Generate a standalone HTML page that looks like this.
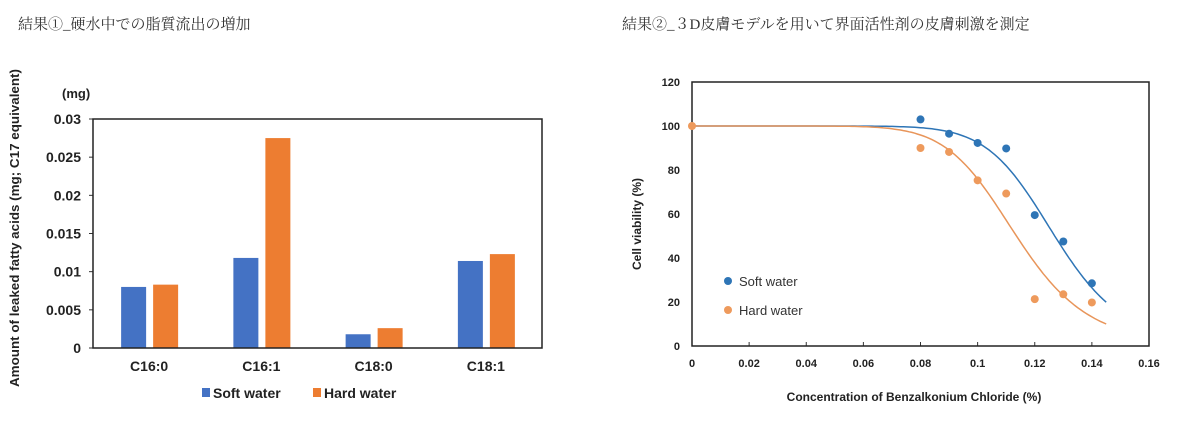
<!DOCTYPE html>
<html><head><meta charset="utf-8"><style>
body{margin:0;background:#fff;width:1200px;height:416px;overflow:hidden}
svg text{font-family:"Liberation Sans",Arial,sans-serif}
.t{font-family:"Liberation Serif","Noto Serif CJK SC",serif;font-size:15px;fill:#333}
</style></head><body>
<svg id="s" width="1200" height="416" xmlns="http://www.w3.org/2000/svg">
<text class="t" x="18" y="29">結果①_硬水中での脂質流出の増加</text>
<text class="t" x="622" y="29">結果②_３D皮膚モデルを用いて界面活性剤の皮膚刺激を測定</text>
<g id="L"></g>
<g id="R"></g>
</svg>
<script>
const NS="http://www.w3.org/2000/svg";
function mk(p,tag,a,txt){const e=document.createElementNS(NS,tag);for(const k in a)e.setAttribute(k,a[k]);if(txt!==undefined)e.textContent=txt;p.appendChild(e);return e;}
// ---- Bar chart data
const categories=["C16:0","C16:1","C18:0","C18:1"];
const softValues=[0.008,0.0118,0.0018,0.0114];
const hardValues=[0.0083,0.0275,0.0026,0.0123];
const barTicks=["0","0.005","0.01","0.015","0.02","0.025","0.03"];
// ---- Scatter data
const xsConc=[0.08,0.09,0.10,0.11,0.12,0.13,0.14];
const softViab=[103,96.5,92.3,89.8,59.5,47.5,28.5];
const hardConc=[0,0.08,0.09,0.10,0.11,0.12,0.13,0.14];
const hardViab=[100,90,88.2,75.3,69.3,21.3,23.5,19.8];
const softFit=[0.127,10.5];
const hardFit=[0.1136,9.0];
const xTickLabels=["0","0.02","0.04","0.06","0.08","0.1","0.12","0.14","0.16"];
const yTickLabels=["0","20","40","60","80","100","120"];

// Left
const L=document.getElementById('L');
const lx0=93,lx1=542,ly0=348,ly1=119;
const ly=v=>ly0-(v/0.03)*(ly0-ly1);
const cw=(lx1-lx0)/categories.length;
barTicks.forEach(t=>{const v=parseFloat(t);
 let e=mk(L,'text',{x:81,y:ly(v)+5,'text-anchor':'end','font-size':14,'font-weight':'bold',fill:'#222'},t);
 
 mk(L,'line',{x1:lx0-4,x2:lx0,y1:ly(v),y2:ly(v),stroke:'#333'});});
categories.forEach((c,i)=>{const cx=lx0+cw*(i+0.5);
 let b=mk(L,'rect',{x:cx-28,y:ly(softValues[i]),width:25,height:ly0-ly(softValues[i]),fill:'#4472C4'});
 
 b=mk(L,'rect',{x:cx+4,y:ly(hardValues[i]),width:25,height:ly0-ly(hardValues[i]),fill:'#ED7D31'});
 
 let t=mk(L,'text',{x:cx,y:371,'text-anchor':'middle','font-size':14,'font-weight':'bold',fill:'#222'},c);
 });
mk(L,'rect',{x:lx0,y:ly1,width:lx1-lx0,height:ly0-ly1,fill:'none',stroke:'#222','stroke-width':1.5});
mk(L,'text',{x:62,y:98,'font-size':13,'font-weight':'bold',fill:'#222'},'(mg)');
let yt=mk(L,'text',{transform:'translate(19,228) rotate(-90)','text-anchor':'middle','font-size':12.5,'font-weight':'bold',fill:'#222',textLength:318,lengthAdjust:'spacingAndGlyphs'},'Amount of leaked fatty acids (mg; C17 equivalent)');

mk(L,'rect',{x:202,y:388,width:8,height:9,fill:'#4472C4'});
let lg=mk(L,'text',{x:213,y:398,'font-size':14,'font-weight':'bold',fill:'#222'},'Soft water');

mk(L,'rect',{x:313,y:388,width:8,height:9,fill:'#ED7D31'});
lg=mk(L,'text',{x:324,y:398,'font-size':14,'font-weight':'bold',fill:'#222'},'Hard water');


// Right
const R=document.getElementById('R');
const rx0=692,rx1=1149,ry0=346,ry1=82;
const sx=v=>rx0+v/0.16*(rx1-rx0), sy=v=>ry0-v/120*(ry0-ry1);
yTickLabels.forEach(t=>{const v=+t;
 let e=mk(R,'text',{x:680,y:sy(v)+4,'text-anchor':'end','font-size':11,'font-weight':'bold',fill:'#222'},t);
 });
xTickLabels.forEach(t=>{const v=+t;
 mk(R,'line',{x1:sx(v),x2:sx(v),y1:ry0,y2:ry0-4,stroke:'#333'});
 let e=mk(R,'text',{x:sx(v),y:367,'text-anchor':'middle','font-size':11,'font-weight':'bold',fill:'#222'},t);
 });
mk(R,'rect',{x:rx0,y:ry1,width:rx1-rx0,height:ry0-ry1,fill:'none',stroke:'#222','stroke-width':1.5});
function curve(fit,col,name){let d='';for(let x=0;x<=0.1451;x+=0.001){const y=100/(1+Math.pow(x/fit[0],fit[1]));d+=(d?'L':'M')+sx(x).toFixed(1)+','+sy(y).toFixed(1);}
 const p=mk(R,'path',{d:d,fill:'none',stroke:col,'stroke-width':1.5});
 }
curve(softFit,'#2E75B6','soft-fit-line');
curve(hardFit,'#E8955A','hard-fit-line');
xsConc.forEach((x,i)=>{const c=mk(R,'circle',{cx:sx(x),cy:sy(softViab[i]),r:4,fill:'#2E75B6'});
 });
hardConc.forEach((x,i)=>{const c=mk(R,'circle',{cx:sx(x),cy:sy(hardViab[i]),r:4,fill:'#EE9A5C'});
 });
let t2=mk(R,'text',{transform:'translate(641,224) rotate(-90)','text-anchor':'middle','font-size':12,'font-weight':'bold',fill:'#222'},'Cell viability (%)');

t2=mk(R,'text',{x:914,y:401,'text-anchor':'middle','font-size':12,'font-weight':'bold',fill:'#222'},'Concentration of Benzalkonium Chloride (%)');

mk(R,'circle',{cx:728,cy:281,r:4,fill:'#2E75B6'});
t2=mk(R,'text',{x:739,y:286,'font-size':13,fill:'#333'},'Soft water');

mk(R,'circle',{cx:728,cy:310,r:4,fill:'#EE9A5C'});
t2=mk(R,'text',{x:739,y:315,'font-size':13,fill:'#333'},'Hard water');

</script>
</body></html>
